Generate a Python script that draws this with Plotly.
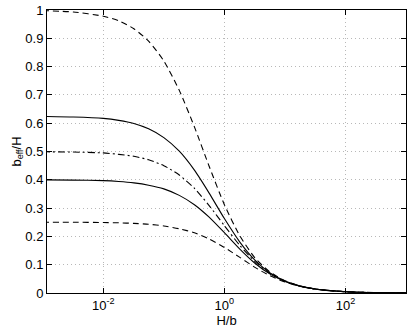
import plotly.graph_objects as go

# H/b sample points (read along the log axis)
h_over_b = [0.001, 0.0032, 0.01, 0.018, 0.032, 0.056, 0.1, 0.18, 0.32, 0.56,
            1, 1.8, 3.2, 5.6, 10, 18, 32, 100, 320, 1000]

# b_eff/H for each curve
curve_100 = [0.998, 0.993, 0.978, 0.962, 0.934, 0.890, 0.820, 0.716, 0.587, 0.448,
             0.312, 0.202, 0.124, 0.075, 0.0435, 0.0246, 0.0140, 0.0045, 0.0014, 0.00045]
curve_0625 = [0.624, 0.622, 0.617, 0.610, 0.599, 0.580, 0.549, 0.501, 0.434, 0.353,
              0.263, 0.180, 0.116, 0.0718, 0.0424, 0.0243, 0.0139, 0.0045, 0.0014, 0.00045]
curve_050 = [0.499, 0.498, 0.495, 0.490, 0.483, 0.471, 0.450, 0.417, 0.370, 0.309,
             0.238, 0.168, 0.111, 0.0698, 0.0417, 0.0240, 0.0138, 0.0045, 0.0014, 0.00045]
curve_040 = [0.400, 0.399, 0.397, 0.394, 0.389, 0.381, 0.368, 0.345, 0.312, 0.268,
             0.213, 0.155, 0.105, 0.0675, 0.0408, 0.0238, 0.0137, 0.0045, 0.0014, 0.00045]
curve_025 = [0.250, 0.250, 0.249, 0.248, 0.246, 0.243, 0.237, 0.227, 0.213, 0.191,
             0.161, 0.126, 0.0906, 0.0613, 0.0385, 0.0229, 0.0134, 0.0045, 0.0014, 0.00045]

x_ticks = [0.01, 1, 100]
x_ticktext = ["10<sup>-2</sup>", "10<sup>0</sup>", "10<sup>2</sup>"]
y_ticks = [0, 0.1, 0.2, 0.3, 0.4, 0.5, 0.6, 0.7, 0.8, 0.9, 1]
y_ticktext = ["0", "0.1", "0.2", "0.3", "0.4", "0.5", "0.6", "0.7", "0.8", "0.9", "1"]

dashed = "6px,4px"
dashdot = "7px,3px,2px,3px"

series = [
    (curve_100, dashed),
    (curve_0625, "solid"),
    (curve_050, dashdot),
    (curve_040, "solid"),
    (curve_025, dashed),
]

fig = go.Figure()
for ys, style in series:
    fig.add_trace(go.Scatter(
        x=h_over_b, y=ys, mode="lines",
        line=dict(color="black", width=1.1, dash=style, shape="spline", smoothing=0.6),
        showlegend=False, hoverinfo="skip",
    ))

axis_common = dict(
    showline=True, linecolor="black", linewidth=1, mirror="ticks",
    ticks="inside", ticklen=5, tickcolor="black",
    showgrid=True, gridcolor="#b8b8b8", griddash="1px,3px", gridwidth=1,
    zeroline=False, automargin=False,
    tickfont=dict(family="Liberation Sans, Arial", size=13, color="black"),
)

fig.update_layout(
    width=409, height=330,
    margin=dict(l=47, r=3, t=10, b=37),
    paper_bgcolor="white", plot_bgcolor="white",
    font=dict(family="Liberation Sans, Arial", size=13, color="black"),
    xaxis=dict(type="log", range=[-2.93, 3], tickvals=x_ticks, ticktext=x_ticktext,
               title=dict(text="H/b", standoff=0, font=dict(size=13)), **axis_common),
    yaxis=dict(range=[0, 1], tickvals=y_ticks, ticktext=y_ticktext,
               title=dict(text="b<sub>eff</sub>/H", standoff=0, font=dict(size=13)), **axis_common),
)

# drop the browser's default body margin so the figure sits at the page corner
fig.write_html("out.html", config={"displayModeBar": False},
               post_script="document.body.style.margin='0';")
